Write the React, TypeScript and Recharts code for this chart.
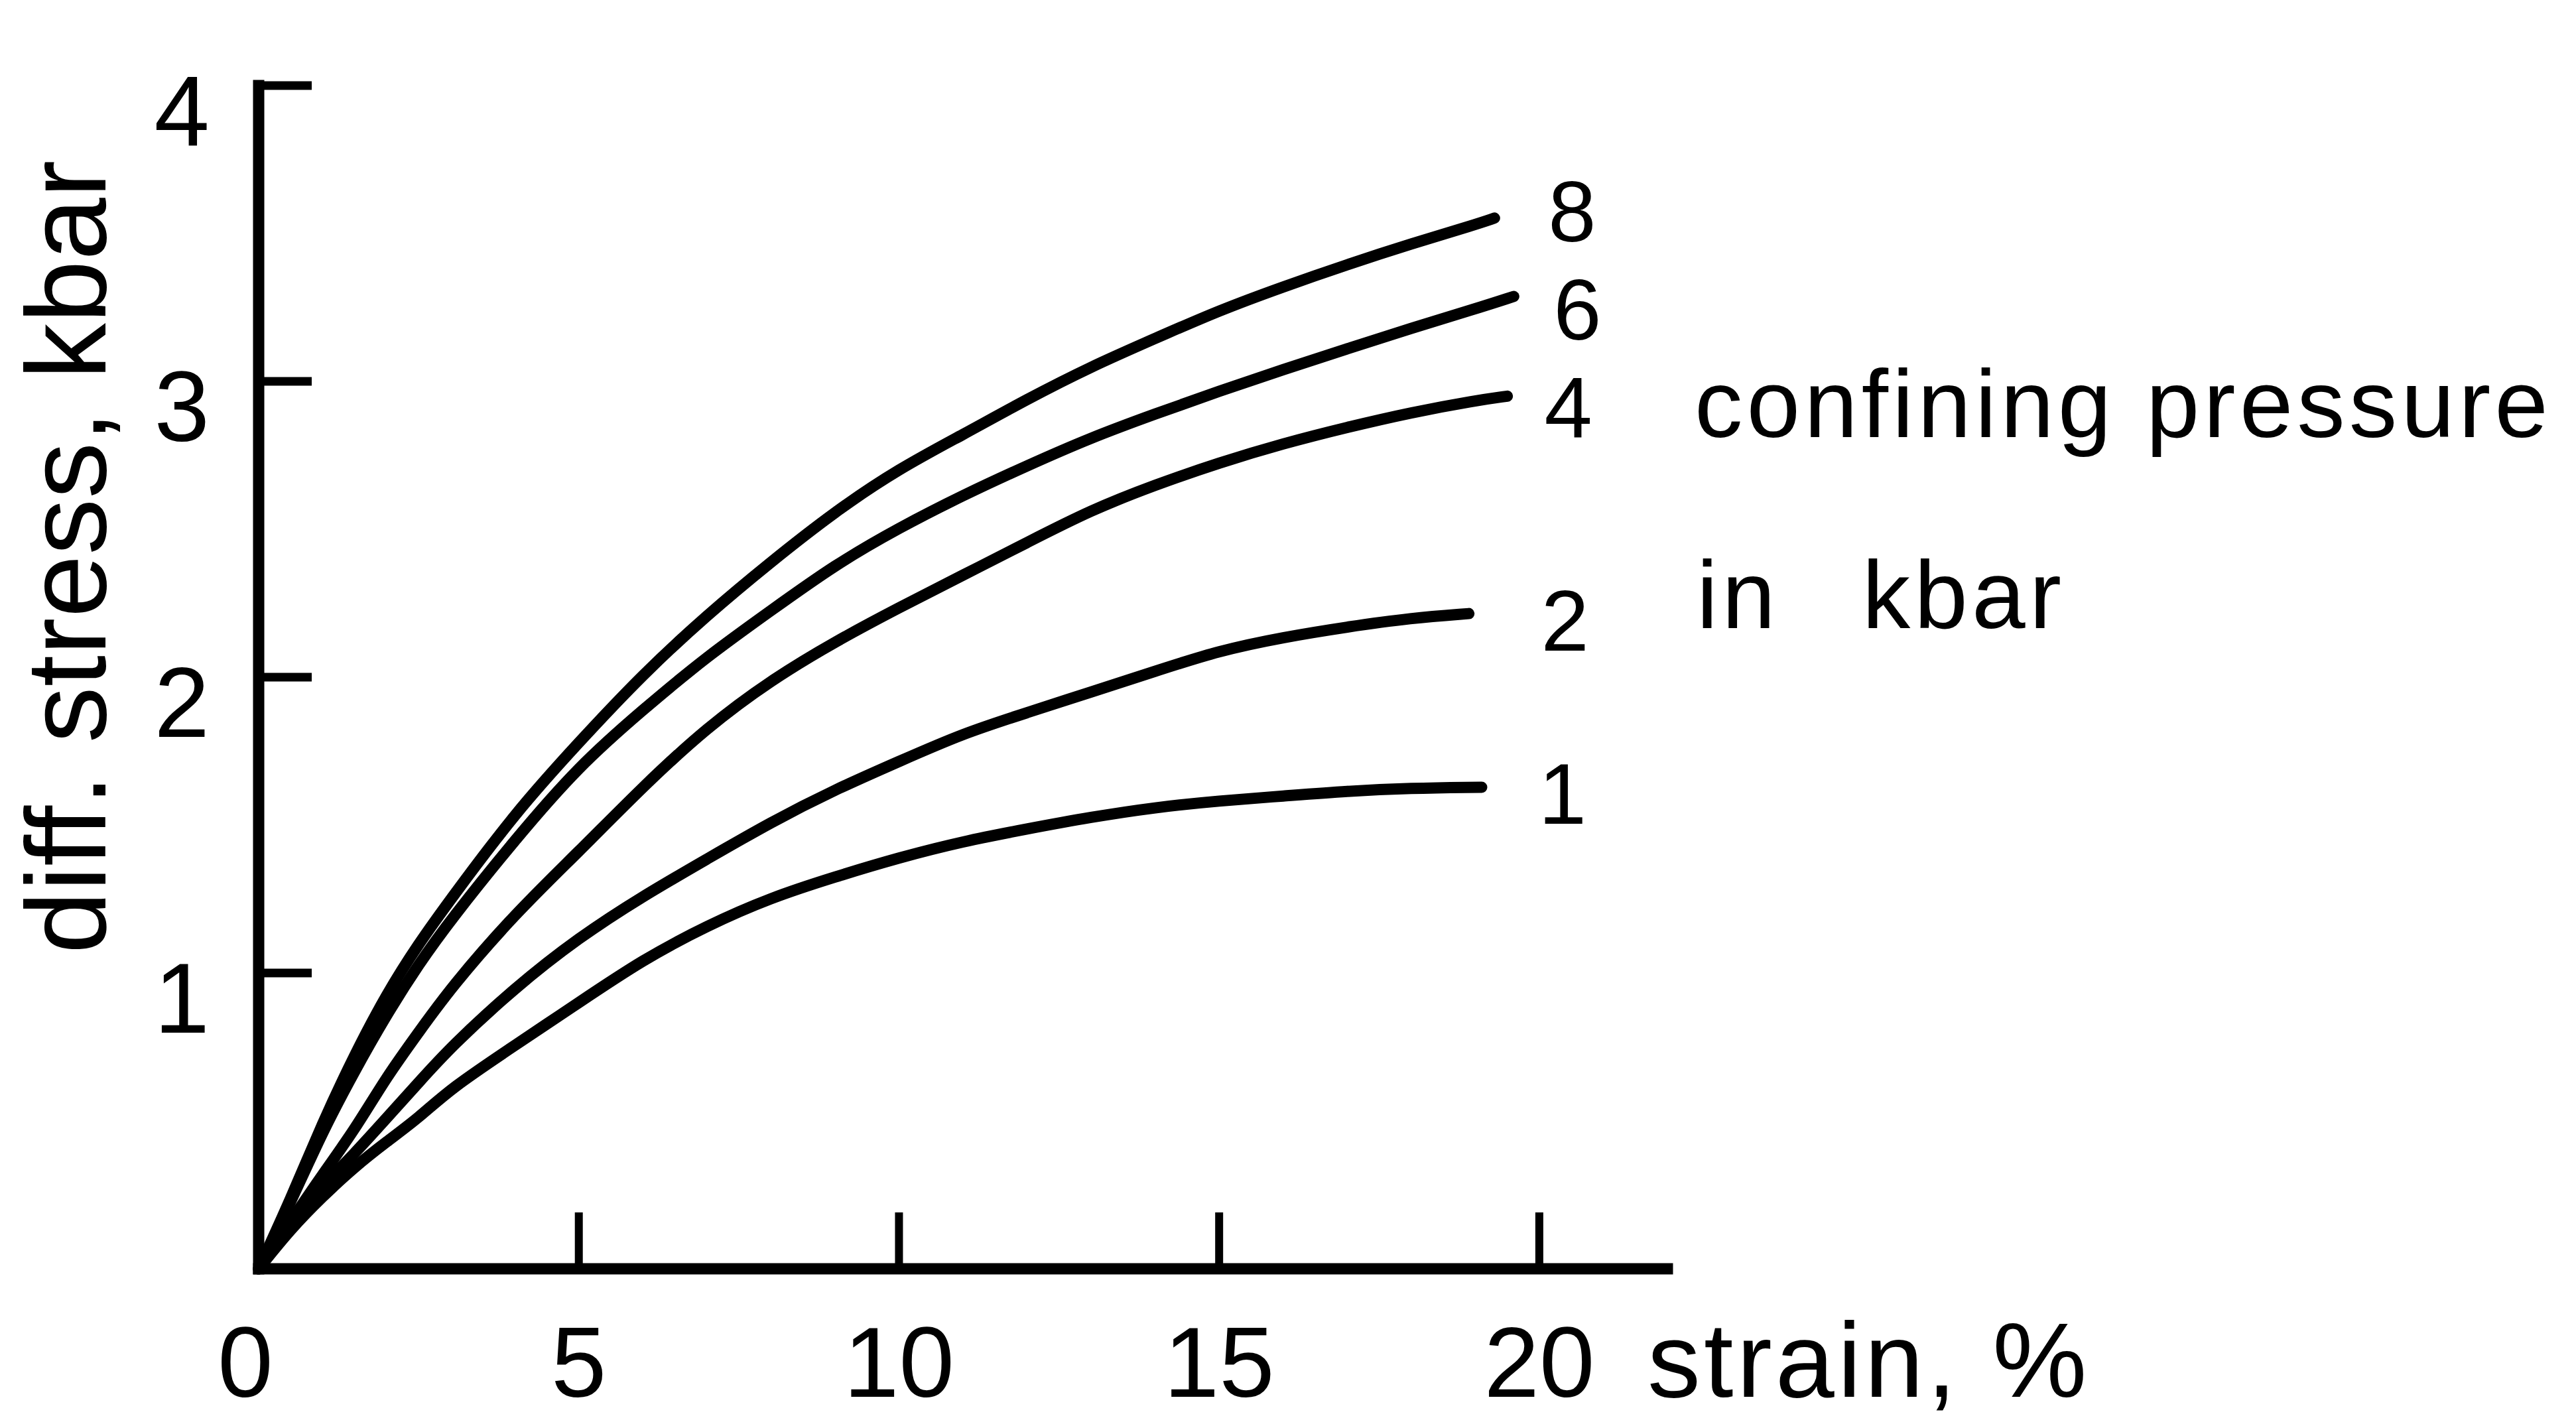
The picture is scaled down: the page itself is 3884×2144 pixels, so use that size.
import React from 'react';
import { LineChart, Line, XAxis, YAxis } from 'recharts';

// strain (%) at which every curve is sampled
const strainSteps = [0, 0.5, 1, 1.5, 2, 2.5, 3, 4, 5, 6, 7, 8, 9, 10, 11, 12, 13, 14, 15, 16, 17, 18, 19];

// confining pressure of each curve, kbar
const pressures = ['1', '2', '4', '6', '8'];

// strain where each curve stops (same order as pressures)
const curveEnds = [19.1, 18.9, 19.5, 19.6, 19.3];

// differential stress in kbar at the strain steps; the last entry is the value at the curve end
const stress1 = [0, 0.135, 0.245, 0.345, 0.43, 0.51, 0.61, 0.755, 0.9, 1.045, 1.16, 1.255, 1.325, 1.39, 1.445, 1.487, 1.527, 1.56, 1.582, 1.598, 1.615, 1.625, 1.628, 1.628];
const stress2 = [0, 0.15, 0.28, 0.39, 0.51, 0.63, 0.75, 0.95, 1.12, 1.26, 1.385, 1.51, 1.62, 1.715, 1.81, 1.88, 1.95, 2.02, 2.09, 2.135, 2.17, 2.2, 2.215];
const stress4 = [0, 0.16, 0.32, 0.47, 0.65, 0.8, 0.95, 1.2, 1.41, 1.63, 1.83, 1.99, 2.12, 2.235, 2.345, 2.455, 2.565, 2.65, 2.725, 2.79, 2.845, 2.895, 2.935, 2.95];
const stress6 = [0, 0.225, 0.465, 0.67, 0.86, 1.03, 1.18, 1.45, 1.7, 1.89, 2.07, 2.225, 2.38, 2.505, 2.615, 2.715, 2.81, 2.89, 2.967, 3.04, 3.11, 3.18, 3.245, 3.287];
const stress8 = [0, 0.235, 0.495, 0.725, 0.93, 1.1, 1.25, 1.54, 1.78, 2.01, 2.21, 2.39, 2.56, 2.705, 2.82, 2.94, 3.05, 3.145, 3.24, 3.32, 3.395, 3.465, 3.53, 3.552];

const strainTicks = [0, 5, 10, 15, 20];
const stressTicks = [1, 2, 3, 4];

const stressSeries = [stress1, stress2, stress4, stress6, stress8];

const buildCurve = (stress: number[], end: number) => {
  const pts = strainSteps
    .filter((s) => s < end)
    .map((s, i) => ({ strain: s, stress: stress[i] }));
  pts.push({ strain: end, stress: stress[stress.length - 1] });
  return pts;
};

const curves = pressures.map((p, i) => ({
  name: p,
  points: buildCurve(stressSeries[i], curveEnds[i]),
}));

const font = "'Liberation Sans', Arial, sans-serif";

// offset of the pressure number from the end of its curve
const labelShift: Record<string, [number, number]> = {
  '1': [122, 8],
  '2': [145, 9],
  '4': [92, 15],
  '6': [96, 18],
  '8': [117, -12],
};

const StrainTick = ({ x, y, payload }: any) => (
  <text
    x={x + (payload.value === 0 ? -20 : 0)}
    y={y}
    textAnchor="middle"
    fontFamily={font}
    fontSize={150}
    fill="#000"
  >
    {payload.value}
  </text>
);

const StressTick = ({ x, y, payload }: any) => (
  <text x={x + 6} y={y + 90} textAnchor="end" fontFamily={font} fontSize={150} fill="#000">
    {payload.value}
  </text>
);

const endLabel = (name: string, lastIndex: number) => (props: any) => {
  if (props.index !== lastIndex) return null;
  const px = props.x ?? props.viewBox?.x;
  const py = props.y ?? props.viewBox?.y;
  const [dx, dy] = labelShift[name];
  return (
    <text x={px + dx} y={py + dy + 47} textAnchor="middle" fontFamily={font} fontSize={130} fill="#000">
      {name}
    </text>
  );
};

export default function App() {
  return (
    <div style={{ width: 3884, height: 2144, background: '#fff' }}>
      <style>{'body{margin:0}'}</style>
      <LineChart width={3884} height={2144} margin={{ top: 129, right: 1370, bottom: 0, left: 0 }}>
        <XAxis
          type="number"
          dataKey="strain"
          domain={[0, 22]}
          ticks={strainTicks}
          interval={0}
          height={231}
          axisLine={{ stroke: '#000', strokeWidth: 17, strokeLinecap: 'square' }}
          tickLine={{ stroke: '#000', strokeWidth: 12 }}
          tickSize={-85}
          tickMargin={278}
          tick={<StrainTick />}
        />
        <YAxis
          type="number"
          domain={[0, 4]}
          ticks={stressTicks}
          interval={0}
          width={390}
          axisLine={{ stroke: '#000', strokeWidth: 17, strokeLinecap: 'square' }}
          tickLine={{ stroke: '#000', strokeWidth: 13 }}
          tickSize={-80}
          tickMargin={160}
          tick={<StressTick />}
        />
        {curves.map((c) => (
          <Line
            key={c.name}
            data={c.points}
            dataKey="stress"
            type="basis"
            stroke="#000"
            strokeWidth={17}
            strokeLinecap="round"
            dot={false}
            activeDot={false}
            isAnimationActive={false}
            label={endLabel(c.name, c.points.length - 1)}
          />
        ))}
        <text
          x={159}
          y={840}
          transform="rotate(-90 159 840)"
          textAnchor="middle"
          fontFamily={font}
          fontSize={170}
          fill="#000"
        >
          diff. stress, kbar
        </text>
        <text x={2484} y={2106} fontFamily={font} fontSize={160} fill="#000" style={{ letterSpacing: 5 }}>
          strain, %
        </text>
        <text x={2555} y={659} fontFamily={font} fontSize={145} fill="#000" style={{ letterSpacing: 6 }}>
          confining pressure
        </text>
        <text x={2558} y={947} fontFamily={font} fontSize={145} fill="#000" style={{ letterSpacing: 6 }}>
          <tspan>in</tspan>
          <tspan dx={125}>kbar</tspan>
        </text>
      </LineChart>
    </div>
  );
}
